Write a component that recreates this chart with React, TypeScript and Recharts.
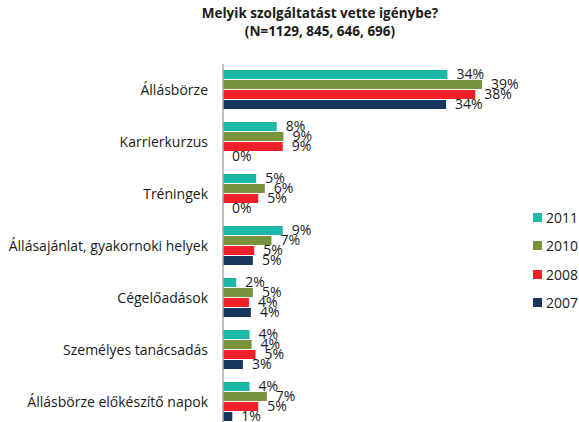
import React from "react";
import { BarChart, Bar, XAxis, YAxis, LabelList } from "recharts";

const categories = [
  "Állásbörze",
  "Karrierkurzus",
  "Tréningek",
  "Állásajánlat, gyakornoki helyek",
  "Cégelőadások",
  "Személyes tanácsadás",
  "Állásbörze előkészítő napok",
];
const v2011 = [33.8, 8.1, 5.0, 9.0, 2.0, 4.0, 4.0];
const v2010 = [39.0, 9.1, 6.3, 7.3, 4.5, 4.3, 6.6];
const v2008 = [38.0, 9.0, 5.3, 4.7, 3.9, 4.9, 5.3];
const v2007 = [33.6, 0, 0, 4.5, 4.2, 3.0, 1.4];

const seriesKeys = ["2011", "2010", "2008", "2007"];
const seriesColors = ["#1fb8a8", "#77933c", "#ee2129", "#17375e"];
const seriesValues = [v2011, v2010, v2008, v2007];

const data = categories.map((name, i) => {
  const row: Record<string, any> = { name };
  seriesKeys.forEach((k, s) => {
    row[k] = seriesValues[s][i];
  });
  return row;
});

const FONT = "'Open Sans', sans-serif";

export default function App() {
  return (
    <div
      style={{
        position: "fixed",
        left: 0,
        top: 0,
        width: 579,
        height: 422,
        overflow: "hidden",
        background: "#fff",
      }}
    >
      <div
        style={{
          position: "absolute",
          left: 0,
          top: 4,
          width: 640,
          textAlign: "center",
          fontFamily: FONT,
          fontWeight: 700,
          fontSize: 13.5,
          lineHeight: "18px",
          color: "#1a1a1a",
        }}
      >
        Melyik szolgáltatást vette igénybe?
        <br />
        (N=1129, 845, 646, 696)
      </div>
      <div style={{ position: "absolute", left: 0, top: 0 }}>
        <BarChart
          width={579}
          height={440}
          data={data}
          layout="vertical"
          margin={{ top: 64, right: 24, bottom: 12, left: 0 }}
          barCategoryGap={6}
          barGap={1}
        >
          <XAxis type="number" domain={[0, 50]} hide />
          <YAxis
            type="category"
            dataKey="name"
            width={223}
            tickLine={false}
            tickSize={6}
            tickMargin={9}
            axisLine={{ stroke: "#a6a6a6", strokeWidth: 1.5 }}
            tick={{ fontFamily: FONT, fontSize: 14, fill: "#1a1a1a" }}
            interval={0}
          />
          {seriesKeys.map((k, i) => (
            <Bar
              key={k}
              dataKey={k}
              fill={seriesColors[i]}
              isAnimationActive={false}
              minPointSize={0.01}
            >
              <LabelList
                dataKey={k}
                position="right"
                offset={9}
                formatter={(v: any) => `${Math.round(Number(v))}%`}
                style={{ fontFamily: FONT, fontSize: 14, fill: "#1a1a1a" }}
              />
            </Bar>
          ))}
        </BarChart>
      </div>
      <div
        style={{
          position: "absolute",
          left: 533,
          top: 203,
          fontFamily: FONT,
          fontSize: 14,
          color: "#1a1a1a",
        }}
      >
        {seriesKeys.map((k, i) => (
          <div key={k} style={{ display: "flex", alignItems: "center", height: 28.5 }}>
            <span
              style={{
                display: "inline-block",
                width: 9,
                height: 9,
                background: seriesColors[i],
                marginRight: 4,
              }}
            />
            <span>{k}</span>
          </div>
        ))}
      </div>
    </div>
  );
}
